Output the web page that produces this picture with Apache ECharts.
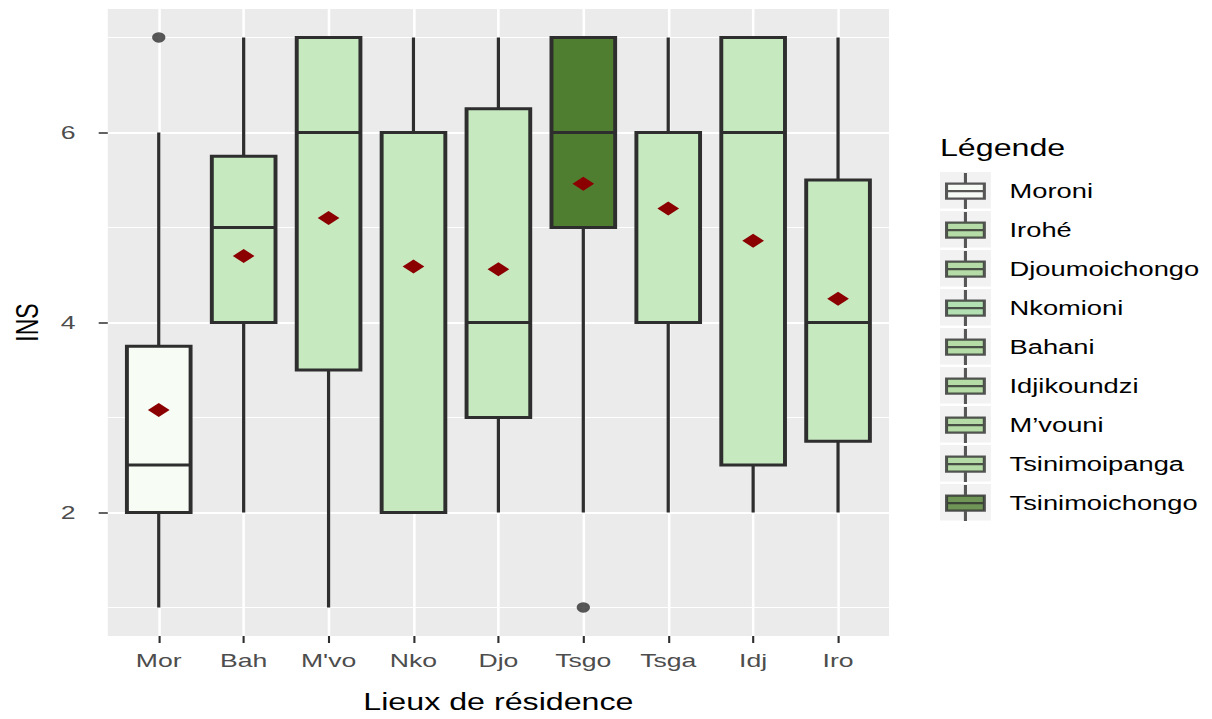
<!DOCTYPE html>
<html>
<head>
<meta charset="utf-8">
<script src="https://cdn.jsdelivr.net/npm/echarts@6/dist/echarts.min.js"></script>
<style>
html, body { margin: 0; padding: 0; background: #ffffff; overflow: hidden; }
#wrap { width: 1212px; height: 719px; overflow: hidden; }
#main { width: 865.7px; height: 719px; transform: scaleX(1.4); transform-origin: 0 0; }
</style>
</head>
<body>
<div id="wrap"><div id="main"></div></div>
<script>
// ---------- data ----------
const categories   = ['Mor', 'Bah', "M'vo", 'Nko', 'Djo', 'Tsgo', 'Tsga', 'Idj', 'Iro'];
const whiskerLow   = [1,    2,    1,    2,    2,    2,    2,    2,    2];
const q1Values     = [2,    4,    3.5,  2,    3,    5,    4,    2.5,  2.75];
const medianValues = [2.5,  5,    6,    6,    4,    6,    6,    6,    4];
const q3Values     = [3.75, 5.75, 7,    6,    6.25, 7,    6,    7,    5.5];
const whiskerHigh  = [6,    7,    7,    7,    7,    7,    7,    7,    7];
const meanValues   = [3.08, 4.70, 5.10, 4.59, 4.56, 5.46, 5.20, 4.86, 4.25];
const outlierCats  = ['Mor', 'Tsgo'];
const outlierVals  = [7, 1];
const yTickLabels  = [2, 4, 6];
const yMinorLines  = [1, 3, 5, 7];
const legendNames  = ['Moroni', 'Irohé', 'Djoumoichongo', 'Nkomioni', 'Bahani', 'Idjikoundzi', 'M\u2019vouni', 'Tsinimoipanga', 'Tsinimoichongo'];

// ---------- styles ----------
const boxFills    = ['#f7fcf5', '#c7e9c0', '#c7e9c0', '#c7e9c0', '#c7e9c0', '#4f7e31', '#c7e9c0', '#c7e9c0', '#c7e9c0'];
const legendFills = ['#f7fcf5', '#a5d492', '#a5d492', '#a2dba1', '#a5d492', '#a5d492', '#a5d492', '#a5d492', '#4d7d30'];
const FONT = "'Liberation Sans', Arial, Helvetica, sans-serif";
const INK = '#2e2e2e';
const BOX_WIDTH = 0.75;

const xPos = categories.map((c, i) => i + 1);
const boxData = categories.map((c, i) => [xPos[i], whiskerLow[i], q1Values[i], medianValues[i], q3Values[i], whiskerHigh[i]]);
const meanData = categories.map((c, i) => [xPos[i], meanValues[i]]);
const outlierData = outlierCats.map((c, i) => [categories.indexOf(c) + 1, outlierVals[i]]);

function renderBox(params, api) {
  const x = api.value(0);
  const lo = api.coord([x, api.value(1)]);
  const b1 = api.coord([x, api.value(2)]);
  const md = api.coord([x, api.value(3)]);
  const b3 = api.coord([x, api.value(4)]);
  const hi = api.coord([x, api.value(5)]);
  const half = api.size([BOX_WIDTH, 0])[0] / 2;
  const cx = lo[0];
  const fill = boxFills[params.dataIndex];
  return {
    type: 'group',
    children: [
      { type: 'line', shape: { x1: cx, y1: hi[1], x2: cx, y2: b3[1] }, style: { stroke: INK, lineWidth: 2.3 } },
      { type: 'line', shape: { x1: cx, y1: b1[1], x2: cx, y2: lo[1] }, style: { stroke: INK, lineWidth: 2.3 } },
      { type: 'rect', shape: { x: cx - half, y: b3[1], width: 2 * half, height: b1[1] - b3[1] },
        style: { fill: fill, stroke: INK, lineWidth: 2.8 } },
      { type: 'line', shape: { x1: cx - half, y1: md[1], x2: cx + half, y2: md[1] }, style: { stroke: INK, lineWidth: 2.8 } }
    ]
  };
}

const keyPath = 'path://M13.5,0 L13.5,10.5 M0,10.5 L27,10.5 L27,25.5 L0,25.5 Z M0,18 L27,18 M13.5,25.5 L13.5,36';
const LEG_LEFT = 675, LEG_TOP = 172, LEG_STEP = 39;

const chart = echarts.init(document.getElementById('main'), null, { renderer: 'svg' });
chart.setOption({
  animation: false,
  backgroundColor: '#ffffff',
  textStyle: { fontFamily: FONT },
  title: {
    text: 'Légende', left: LEG_LEFT - 3.6, top: 137, padding: 0,
    textStyle: { fontSize: 23, fontWeight: 'normal', color: '#000', fontFamily: FONT }
  },
  grid: { left: 75.7, top: 9, width: 559.3, height: 628, show: true, backgroundColor: '#ebebeb', borderWidth: 0, containLabel: false },
  xAxis: {
    type: 'value', min: 0.4, max: 9.6,
    axisLine: { show: false },
    axisTick: { show: true, customValues: xPos, length: 7, lineStyle: { color: INK, width: 1.5 } },
    axisLabel: { customValues: xPos, formatter: v => categories[Math.round(v) - 1], color: '#4d4d4d', fontSize: 19, margin: 15, fontFamily: FONT },
    splitLine: { show: true, lineStyle: { color: '#ffffff', width: 1.8 } },
    name: 'Lieux de résidence', nameLocation: 'middle', nameGap: 55,
    nameTextStyle: { fontSize: 23, color: '#000', fontFamily: FONT }
  },
  yAxis: [{
    type: 'value', min: 0.7, max: 7.3,
    axisLine: { show: false },
    axisTick: { show: true, customValues: yTickLabels, length: 6.5, lineStyle: { color: INK, width: 1.5 } },
    axisLabel: { customValues: yTickLabels, color: '#4d4d4d', fontSize: 19, margin: 23, fontFamily: FONT },
    splitLine: { show: true, lineStyle: { color: '#ffffff', width: 2.2 } },
    name: 'INS', nameLocation: 'middle', nameGap: 46,
    nameTextStyle: { fontSize: 23, color: '#000', fontFamily: FONT }
  }, {
    type: 'value', min: 0.7, max: 7.3, position: 'left',
    axisLine: { show: false },
    axisTick: { show: false, customValues: yMinorLines },
    axisLabel: { show: false, customValues: yMinorLines },
    splitLine: { show: true, lineStyle: { color: '#ffffff', width: 1.1 } }
  }],
  legend: {
    orient: 'vertical', left: LEG_LEFT, top: LEG_TOP, padding: 0,
    itemWidth: 27, itemHeight: 36, itemGap: 0.8, selectedMode: false,
    textStyle: { fontSize: 19.5, color: '#000', padding: [0, 0, 0, 13], fontFamily: FONT },
    data: legendNames.map((n, i) => ({ name: n, icon: keyPath, itemStyle: { color: legendFills[i], borderColor: INK, borderWidth: 2.2 } }))
  },
  graphic: legendNames.map((n, i) => ({
    type: 'rect', z: -10,
    shape: { x: LEG_LEFT - 3.6, y: LEG_TOP + i * LEG_STEP, width: 36.4, height: 36.5 },
    style: { fill: '#f2f2f2' }
  })),
  series: [
    { type: 'custom', name: 'boxes', renderItem: renderBox, data: boxData, encode: { x: 0, y: [1, 2, 3, 4, 5] }, z: 2, silent: true },
    { type: 'scatter', name: 'outliers', data: outlierData, symbol: 'circle', symbolSize: [9.5, 10.5], itemStyle: { color: INK }, z: 3, silent: true },
    { type: 'scatter', name: 'means', data: meanData, symbol: 'diamond', symbolSize: [15.5, 14], itemStyle: { color: '#8b0000', opacity: 1 }, z: 4, silent: true }
  ].concat(legendNames.map((n, i) => ({ type: 'scatter', name: n, data: [], itemStyle: { color: legendFills[i] } })))
});
</script>
</body>
</html>
